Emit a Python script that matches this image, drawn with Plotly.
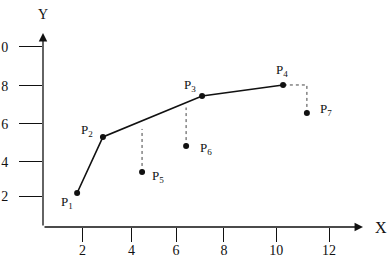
import plotly.graph_objects as go

# polyline points P1..P4 and off-line points P5..P7
line_names = ["1", "2", "3", "4"]
line_x = [1.76, 2.81, 6.84, 10.13]
line_y = [2.16, 5.17, 7.37, 7.96]

off_names = ["5", "6", "7"]
off_x = [4.40, 6.19, 11.10]
off_y = [3.29, 4.68, 6.46]

# dotted projection guides
p5_guide_top = 5.6
p6_guide_top = 6.75
p7_guide_top = 7.96

x_tick_labels = ["2", "4", "6", "8", "10", "12"]
x_tick_pos = [1.98, 3.97, 5.78, 7.73, 9.85, 12.0]
y_tick_labels = ["2", "4", "6", "8", "0"]
y_tick_pos = [2.0, 3.83, 5.87, 7.91, 10.0]

X0, X1 = 0.374, 13.38
Y0, Y1 = 0.336, 10.75

black = "#111111"
serif = "Liberation Serif, Times New Roman, serif"

fig = go.Figure()

# dotted guides
guide = dict(color="#444", width=1, dash="dot")
fig.add_trace(go.Scatter(x=[off_x[0], off_x[0]], y=[off_y[0], p5_guide_top], mode="lines",
                         line=guide, hoverinfo="skip"))
fig.add_trace(go.Scatter(x=[off_x[1], off_x[1]], y=[off_y[1], p6_guide_top], mode="lines",
                         line=guide, hoverinfo="skip"))
fig.add_trace(go.Scatter(x=[off_x[2], off_x[2], line_x[3]], y=[off_y[2], p7_guide_top, line_y[3]],
                         mode="lines", line=guide, hoverinfo="skip"))

# polyline
fig.add_trace(go.Scatter(x=line_x, y=line_y, mode="lines+markers",
                         line=dict(color=black, width=1.6),
                         marker=dict(color=black, size=6)))
# off-line points
fig.add_trace(go.Scatter(x=off_x, y=off_y, mode="markers",
                         marker=dict(color=black, size=6)))

# point labels
label_shift = {
    "1": (-10, -9), "2": (-16, 6), "3": (-12, 10), "4": (-1, 14),
    "5": (16, -5), "6": (20, -2), "7": (19, 3),
}
for n, x, y in list(zip(line_names, line_x, line_y)) + list(zip(off_names, off_x, off_y)):
    dx, dy = label_shift[n]
    fig.add_annotation(x=x, y=y, text=f"P<sub>{n}</sub>", showarrow=False,
                       xshift=dx, yshift=dy, font=dict(family=serif, size=13, color=black))

# axes with arrows
fig.add_annotation(x=X1, y=Y0, ax=X0, ay=Y0, xref="x", yref="y", axref="x", ayref="y",
                   showarrow=True, arrowhead=2, arrowsize=1.3, arrowwidth=1.3,
                   arrowcolor=black, text="", standoff=0)
fig.add_annotation(x=X0, y=Y1, ax=X0, ay=Y0, xref="x", yref="y", axref="x", ayref="y",
                   showarrow=True, arrowhead=2, arrowsize=1.3, arrowwidth=1.3,
                   arrowcolor=black, text="", standoff=0)

fig.add_annotation(x=1.056, y=-0.005, xref="paper", yref="paper", text="X", showarrow=False,
                   xanchor="center", yanchor="middle",
                   font=dict(family=serif, size=16, color=black))
fig.add_annotation(x=0.0, y=1.093, xref="paper", yref="paper", text="Y", showarrow=False,
                   xanchor="center", yanchor="middle",
                   font=dict(family=serif, size=14, color=black))

fig.update_xaxes(range=[X0, X1], tickvals=x_tick_pos, ticktext=x_tick_labels,
                 ticks="outside", ticklen=14, tickwidth=1.2, tickcolor=black,
                 showgrid=False, zeroline=False, showline=False, automargin=False,
                 ticklabelstandoff=-4,
                 tickfont=dict(family=serif, size=14, color=black))
fig.update_yaxes(range=[Y0, Y1], tickvals=y_tick_pos, ticktext=y_tick_labels,
                 ticks="outside", ticklen=23, tickwidth=1.2, tickcolor=black,
                 showgrid=False, zeroline=False, showline=False, automargin=False,
                 ticklabelstandoff=8,
                 tickfont=dict(family=serif, size=14, color=black))

fig.update_layout(width=391, height=276, margin=dict(l=43, r=28, t=33, b=49),
                  plot_bgcolor="white", paper_bgcolor="white", showlegend=False)

fig.write_html("out.html")
